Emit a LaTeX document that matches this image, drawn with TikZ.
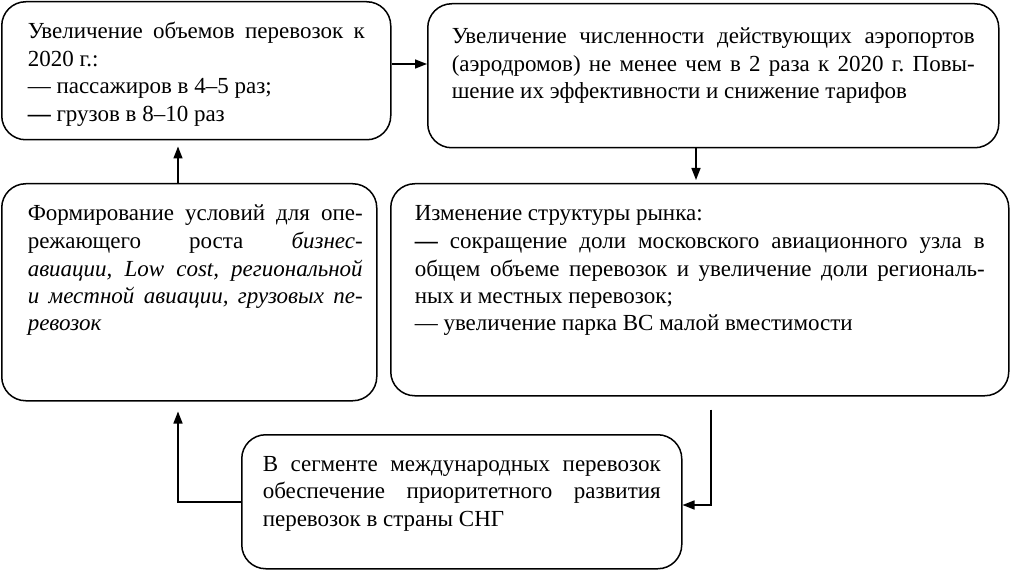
\documentclass[tikz,border=0pt]{standalone}
\usepackage{fontspec}
\setmainfont{Liberation Serif}
\usetikzlibrary{arrows.meta,calc}
\frenchspacing
\newcommand{\jl}[1]{\strut\makebox[\linewidth][s]{#1}\\}
\newcommand{\nl}[1]{\strut #1\\}
\tikzset{
  box/.style={draw, line width=1.5pt, rounded corners=24pt, anchor=north west,
    font=\fontsize{23}{27.5}\selectfont},
  arr/.style={line width=1.5pt, -{Triangle[length=12pt,width=9pt]}},
}
\begin{document}
\begin{tikzpicture}[x=1pt,y=-1pt]
\useasboundingbox (0,0) rectangle (1010,575);
% A
\node[box, inner xsep=26pt, inner ysep=18pt] (a) at (1,1) {\parbox[t][102pt][t]{337pt}{%
\jl{Увеличение объемов перевозок к}
\nl{2020 г.:}
\nl{— пассажиров в 4–5 раз;}
\strut \textbf{—} грузов в 8–10 раз}};
% B
\node[box, inner xsep=24pt, inner ysep=21pt] (b) at (427,3) {\parbox[t][102pt][t]{523pt}{%
\jl{Увеличение численности действующих аэропортов}
\jl{(аэродромов) не менее чем в 2 раза к 2020 г. Повы-}
\strut шение их эффективности и снижение тарифов}};
% C
\node[box, inner xsep=26pt, inner ysep=18pt] (c) at (1,183) {\parbox[t][181pt][t]{335pt}{%
\jl{Формирование условий для опе-}
\jl{режающего роста \textit{бизнес-}}
\jl{\textit{авиации, Low cost, региональной}}
\jl{\textit{и местной авиации, грузовых пе-}}
\strut\textit{ревозок}}\kern-12pt};
% D
\node[box, inner xsep=24pt, inner ysep=18pt] (d) at (390,183) {\parbox[t][176pt][t]{570pt}{%
\nl{Изменение структуры рынка:}
\jl{\textbf{—} сокращение доли московского авиационного узла в}
\jl{общем объеме перевозок и увеличение доли региональ-}
\nl{ных и местных перевозок;}
\strut — увеличение парка ВС малой вместимости}};
% E
\node[box, inner xsep=21pt, inner ysep=17pt] (e) at (241,434) {\parbox[t][100pt][t]{398pt}{%
\jl{В сегменте международных перевозок}
\jl{обеспечение приоритетного развития}
\strut перевозок в страны СНГ}};
% connectors
\draw[arr] (a.east |- 0,64) -- (b.west |- 0,64);
\draw[arr] (b.south -| 696,0) -- ([yshift=3pt]d.north -| 696,0);
\draw[arr] (c.north -| 178,0) -- ([yshift=-6pt]a.south -| 178,0);
\draw[arr] ([yshift=-13pt]d.south -| 711,0) |- (e.east |- 0,505);
\draw[arr] (e.west |- 0,502) -| ([yshift=-10pt]c.south -| 178,0);
\end{tikzpicture}
\end{document}
